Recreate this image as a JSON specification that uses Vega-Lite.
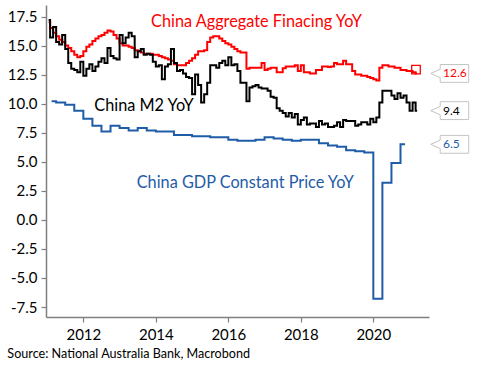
{
 "$schema": "https://vega.github.io/schema/vega-lite/v6.json",
 "width": 383,
 "height": 312,
 "autosize": {"type": "none"},
 "padding": {"left": 46, "top": 5, "right": 54, "bottom": 54},
 "background": "white",
 "config": {"view": {"stroke": null}, "font": "Lato"},
 "title": {"text": "Source: National Australia Bank, Macrobond", "orient": "bottom", "anchor": "start", "frame": "bounds", "offset": 6, "fontSize": 12.6, "font": "Lato", "fontWeight": "normal", "color": "#000000"},
 "datasets": {
  "lines": [
{"s":"TSF","t":2011.042,"v":17.0},{"s":"TSF","t":2011.125,"v":16.5},{"s":"TSF","t":2011.208,"v":16.1},{"s":"TSF","t":2011.292,"v":15.8},{"s":"TSF","t":2011.375,"v":15.5},{"s":"TSF","t":2011.458,"v":15.3},{"s":"TSF","t":2011.542,"v":15.0},{"s":"TSF","t":2011.625,"v":14.8},{"s":"TSF","t":2011.708,"v":14.5},{"s":"TSF","t":2011.792,"v":14.2},{"s":"TSF","t":2011.875,"v":14.0},{"s":"TSF","t":2011.958,"v":14.1},
{"s":"TSF","t":2012.042,"v":14.5},{"s":"TSF","t":2012.125,"v":14.9},{"s":"TSF","t":2012.208,"v":15.1},{"s":"TSF","t":2012.292,"v":15.4},{"s":"TSF","t":2012.375,"v":15.6},{"s":"TSF","t":2012.458,"v":15.8},{"s":"TSF","t":2012.542,"v":15.9},{"s":"TSF","t":2012.625,"v":16.1},{"s":"TSF","t":2012.708,"v":16.3},{"s":"TSF","t":2012.792,"v":16.2},{"s":"TSF","t":2012.875,"v":15.9},{"s":"TSF","t":2012.958,"v":15.6},
{"s":"TSF","t":2013.042,"v":15.2},{"s":"TSF","t":2013.125,"v":15.0},{"s":"TSF","t":2013.208,"v":15.0},{"s":"TSF","t":2013.292,"v":14.9},{"s":"TSF","t":2013.375,"v":14.8},{"s":"TSF","t":2013.458,"v":14.6},{"s":"TSF","t":2013.542,"v":14.5},{"s":"TSF","t":2013.625,"v":14.4},{"s":"TSF","t":2013.708,"v":14.3},{"s":"TSF","t":2013.792,"v":14.3},{"s":"TSF","t":2013.875,"v":14.3},{"s":"TSF","t":2013.958,"v":14.2},
{"s":"TSF","t":2014.042,"v":14.2},{"s":"TSF","t":2014.125,"v":14.1},{"s":"TSF","t":2014.208,"v":14.0},{"s":"TSF","t":2014.292,"v":13.9},{"s":"TSF","t":2014.375,"v":13.8},{"s":"TSF","t":2014.458,"v":13.7},{"s":"TSF","t":2014.542,"v":13.4},{"s":"TSF","t":2014.625,"v":13.3},{"s":"TSF","t":2014.708,"v":13.3},{"s":"TSF","t":2014.792,"v":13.3},{"s":"TSF","t":2014.875,"v":13.5},{"s":"TSF","t":2014.958,"v":13.7},
{"s":"TSF","t":2015.042,"v":13.9},{"s":"TSF","t":2015.125,"v":14.2},{"s":"TSF","t":2015.208,"v":14.5},{"s":"TSF","t":2015.292,"v":14.5},{"s":"TSF","t":2015.375,"v":14.6},{"s":"TSF","t":2015.458,"v":15.3},{"s":"TSF","t":2015.542,"v":15.7},{"s":"TSF","t":2015.625,"v":15.8},{"s":"TSF","t":2015.708,"v":15.8},{"s":"TSF","t":2015.792,"v":15.6},{"s":"TSF","t":2015.875,"v":15.4},{"s":"TSF","t":2015.958,"v":15.2},
{"s":"TSF","t":2016.042,"v":15.1},{"s":"TSF","t":2016.125,"v":14.9},{"s":"TSF","t":2016.208,"v":14.7},{"s":"TSF","t":2016.292,"v":14.5},{"s":"TSF","t":2016.375,"v":14.4},{"s":"TSF","t":2016.458,"v":14.4},{"s":"TSF","t":2016.542,"v":13.0},{"s":"TSF","t":2016.625,"v":13.1},{"s":"TSF","t":2016.708,"v":13.1},{"s":"TSF","t":2016.792,"v":13.1},{"s":"TSF","t":2016.875,"v":13.1},{"s":"TSF","t":2016.958,"v":13.5},
{"s":"TSF","t":2017.042,"v":12.9},{"s":"TSF","t":2017.125,"v":13.0},{"s":"TSF","t":2017.208,"v":13.1},{"s":"TSF","t":2017.292,"v":13.1},{"s":"TSF","t":2017.375,"v":12.7},{"s":"TSF","t":2017.458,"v":12.7},{"s":"TSF","t":2017.542,"v":13.05},{"s":"TSF","t":2017.625,"v":13.2},{"s":"TSF","t":2017.708,"v":13.2},{"s":"TSF","t":2017.792,"v":13.2},{"s":"TSF","t":2017.875,"v":13.3},{"s":"TSF","t":2017.958,"v":12.8},
{"s":"TSF","t":2018.042,"v":13.3},{"s":"TSF","t":2018.125,"v":12.7},{"s":"TSF","t":2018.208,"v":12.7},{"s":"TSF","t":2018.292,"v":12.6},{"s":"TSF","t":2018.375,"v":12.6},{"s":"TSF","t":2018.458,"v":12.9},{"s":"TSF","t":2018.542,"v":12.9},{"s":"TSF","t":2018.625,"v":13.2},{"s":"TSF","t":2018.708,"v":13.2},{"s":"TSF","t":2018.792,"v":13.15},{"s":"TSF","t":2018.875,"v":13.2},{"s":"TSF","t":2018.958,"v":13.5},
{"s":"TSF","t":2019.042,"v":13.4},{"s":"TSF","t":2019.125,"v":13.4},{"s":"TSF","t":2019.208,"v":13.7},{"s":"TSF","t":2019.292,"v":13.4},{"s":"TSF","t":2019.375,"v":13.4},{"s":"TSF","t":2019.458,"v":12.8},{"s":"TSF","t":2019.542,"v":12.5},{"s":"TSF","t":2019.625,"v":12.5},{"s":"TSF","t":2019.708,"v":12.4},{"s":"TSF","t":2019.792,"v":12.4},{"s":"TSF","t":2019.875,"v":12.3},{"s":"TSF","t":2019.958,"v":12.2},
{"s":"TSF","t":2020.042,"v":12.1},{"s":"TSF","t":2020.125,"v":12.0},{"s":"TSF","t":2020.208,"v":13.1},{"s":"TSF","t":2020.292,"v":13.3},{"s":"TSF","t":2020.375,"v":13.3},{"s":"TSF","t":2020.458,"v":13.2},{"s":"TSF","t":2020.542,"v":13.2},{"s":"TSF","t":2020.625,"v":13.1},{"s":"TSF","t":2020.708,"v":13.1},{"s":"TSF","t":2020.792,"v":12.9},{"s":"TSF","t":2020.875,"v":12.9},{"s":"TSF","t":2020.958,"v":12.8},
{"s":"TSF","t":2021.042,"v":12.8},{"s":"TSF","t":2021.125,"v":12.7},{"s":"TSF","t":2021.208,"v":12.6},
{"s":"M2","t":2011.042,"v":17.2},{"s":"M2","t":2011.125,"v":15.7},{"s":"M2","t":2011.208,"v":16.6},{"s":"M2","t":2011.292,"v":15.3},{"s":"M2","t":2011.375,"v":15.1},{"s":"M2","t":2011.458,"v":15.9},{"s":"M2","t":2011.542,"v":14.7},{"s":"M2","t":2011.625,"v":13.5},{"s":"M2","t":2011.708,"v":13.0},{"s":"M2","t":2011.792,"v":12.9},{"s":"M2","t":2011.875,"v":12.7},{"s":"M2","t":2011.958,"v":13.6},
{"s":"M2","t":2012.042,"v":12.4},{"s":"M2","t":2012.125,"v":13.0},{"s":"M2","t":2012.208,"v":13.4},{"s":"M2","t":2012.292,"v":12.8},{"s":"M2","t":2012.375,"v":13.2},{"s":"M2","t":2012.458,"v":13.6},{"s":"M2","t":2012.542,"v":13.9},{"s":"M2","t":2012.625,"v":13.5},{"s":"M2","t":2012.708,"v":14.8},{"s":"M2","t":2012.792,"v":14.1},{"s":"M2","t":2012.875,"v":13.9},{"s":"M2","t":2012.958,"v":13.8},
{"s":"M2","t":2013.042,"v":15.9},{"s":"M2","t":2013.125,"v":15.2},{"s":"M2","t":2013.208,"v":15.7},{"s":"M2","t":2013.292,"v":16.1},{"s":"M2","t":2013.375,"v":15.8},{"s":"M2","t":2013.458,"v":14.0},{"s":"M2","t":2013.542,"v":14.5},{"s":"M2","t":2013.625,"v":14.7},{"s":"M2","t":2013.708,"v":14.2},{"s":"M2","t":2013.792,"v":14.3},{"s":"M2","t":2013.875,"v":14.2},{"s":"M2","t":2013.958,"v":13.6},
{"s":"M2","t":2014.042,"v":13.2},{"s":"M2","t":2014.125,"v":13.3},{"s":"M2","t":2014.208,"v":12.1},{"s":"M2","t":2014.292,"v":13.2},{"s":"M2","t":2014.375,"v":13.4},{"s":"M2","t":2014.458,"v":14.7},{"s":"M2","t":2014.542,"v":13.5},{"s":"M2","t":2014.625,"v":12.8},{"s":"M2","t":2014.708,"v":12.9},{"s":"M2","t":2014.792,"v":12.6},{"s":"M2","t":2014.875,"v":12.3},{"s":"M2","t":2014.958,"v":12.2},
{"s":"M2","t":2015.042,"v":10.8},{"s":"M2","t":2015.125,"v":12.5},{"s":"M2","t":2015.208,"v":11.6},{"s":"M2","t":2015.292,"v":10.1},{"s":"M2","t":2015.375,"v":10.8},{"s":"M2","t":2015.458,"v":11.8},{"s":"M2","t":2015.542,"v":13.3},{"s":"M2","t":2015.625,"v":13.3},{"s":"M2","t":2015.708,"v":13.1},{"s":"M2","t":2015.792,"v":13.5},{"s":"M2","t":2015.875,"v":13.7},{"s":"M2","t":2015.958,"v":13.3},
{"s":"M2","t":2016.042,"v":14.0},{"s":"M2","t":2016.125,"v":13.3},{"s":"M2","t":2016.208,"v":13.4},{"s":"M2","t":2016.292,"v":12.8},{"s":"M2","t":2016.375,"v":11.8},{"s":"M2","t":2016.458,"v":11.8},{"s":"M2","t":2016.542,"v":10.2},{"s":"M2","t":2016.625,"v":11.4},{"s":"M2","t":2016.708,"v":11.5},{"s":"M2","t":2016.792,"v":11.6},{"s":"M2","t":2016.875,"v":11.4},{"s":"M2","t":2016.958,"v":11.3},
{"s":"M2","t":2017.042,"v":11.3},{"s":"M2","t":2017.125,"v":11.1},{"s":"M2","t":2017.208,"v":10.6},{"s":"M2","t":2017.292,"v":10.5},{"s":"M2","t":2017.375,"v":9.6},{"s":"M2","t":2017.458,"v":9.4},{"s":"M2","t":2017.542,"v":9.2},{"s":"M2","t":2017.625,"v":8.9},{"s":"M2","t":2017.708,"v":9.2},{"s":"M2","t":2017.792,"v":8.8},{"s":"M2","t":2017.875,"v":9.1},{"s":"M2","t":2017.958,"v":8.2},
{"s":"M2","t":2018.042,"v":8.6},{"s":"M2","t":2018.125,"v":8.8},{"s":"M2","t":2018.208,"v":8.2},{"s":"M2","t":2018.292,"v":8.3},{"s":"M2","t":2018.375,"v":8.3},{"s":"M2","t":2018.458,"v":8.0},{"s":"M2","t":2018.542,"v":8.5},{"s":"M2","t":2018.625,"v":8.2},{"s":"M2","t":2018.708,"v":8.3},{"s":"M2","t":2018.792,"v":8.0},{"s":"M2","t":2018.875,"v":8.0},{"s":"M2","t":2018.958,"v":8.1},
{"s":"M2","t":2019.042,"v":8.4},{"s":"M2","t":2019.125,"v":8.0},{"s":"M2","t":2019.208,"v":8.6},{"s":"M2","t":2019.292,"v":8.5},{"s":"M2","t":2019.375,"v":8.5},{"s":"M2","t":2019.458,"v":8.5},{"s":"M2","t":2019.542,"v":8.1},{"s":"M2","t":2019.625,"v":8.2},{"s":"M2","t":2019.708,"v":8.4},{"s":"M2","t":2019.792,"v":8.4},{"s":"M2","t":2019.875,"v":8.2},{"s":"M2","t":2019.958,"v":8.7},
{"s":"M2","t":2020.042,"v":8.4},{"s":"M2","t":2020.125,"v":8.8},{"s":"M2","t":2020.208,"v":10.1},{"s":"M2","t":2020.292,"v":11.1},{"s":"M2","t":2020.375,"v":11.1},{"s":"M2","t":2020.458,"v":11.1},{"s":"M2","t":2020.542,"v":10.7},{"s":"M2","t":2020.625,"v":10.4},{"s":"M2","t":2020.708,"v":10.9},{"s":"M2","t":2020.792,"v":10.5},{"s":"M2","t":2020.875,"v":10.7},{"s":"M2","t":2020.958,"v":10.1},
{"s":"M2","t":2021.042,"v":9.4},{"s":"M2","t":2021.125,"v":10.1},{"s":"M2","t":2021.208,"v":9.4},
{"s":"GDP","t":2011.125,"v":10.2},{"s":"GDP","t":2011.375,"v":10.1},{"s":"GDP","t":2011.625,"v":9.9},{"s":"GDP","t":2011.875,"v":9.4},
{"s":"GDP","t":2012.125,"v":8.7},{"s":"GDP","t":2012.375,"v":8.1},{"s":"GDP","t":2012.625,"v":7.6},{"s":"GDP","t":2012.875,"v":8.1},
{"s":"GDP","t":2013.125,"v":7.9},{"s":"GDP","t":2013.375,"v":7.7},{"s":"GDP","t":2013.625,"v":7.9},{"s":"GDP","t":2013.875,"v":7.7},
{"s":"GDP","t":2014.125,"v":7.6},{"s":"GDP","t":2014.375,"v":7.6},{"s":"GDP","t":2014.625,"v":7.3},{"s":"GDP","t":2014.875,"v":7.3},
{"s":"GDP","t":2015.125,"v":7.2},{"s":"GDP","t":2015.375,"v":7.2},{"s":"GDP","t":2015.625,"v":7.1},{"s":"GDP","t":2015.875,"v":7.1},
{"s":"GDP","t":2016.125,"v":6.9},{"s":"GDP","t":2016.375,"v":6.8},{"s":"GDP","t":2016.625,"v":6.8},{"s":"GDP","t":2016.875,"v":6.9},
{"s":"GDP","t":2017.125,"v":7.1},{"s":"GDP","t":2017.375,"v":7.0},{"s":"GDP","t":2017.625,"v":6.9},{"s":"GDP","t":2017.875,"v":6.8},
{"s":"GDP","t":2018.125,"v":6.9},{"s":"GDP","t":2018.375,"v":6.9},{"s":"GDP","t":2018.625,"v":6.6},{"s":"GDP","t":2018.875,"v":6.4},
{"s":"GDP","t":2019.125,"v":6.3},{"s":"GDP","t":2019.375,"v":6.0},{"s":"GDP","t":2019.625,"v":5.9},{"s":"GDP","t":2019.875,"v":5.8},
{"s":"GDP","t":2020.125,"v":-6.8},{"s":"GDP","t":2020.375,"v":3.2},{"s":"GDP","t":2020.625,"v":4.9},{"s":"GDP","t":2020.875,"v":6.5}
  ],
  "labels": [
   {"s":"TSF","t":2013.867,"v":16.57,"label":"China Aggregate Finacing YoY"},
   {"s":"M2","t":2012.302,"v":9.37,"label":"China M2 YoY"},
   {"s":"GDP","t":2013.472,"v":2.72,"label":"China GDP Constant Price YoY"}
  ],
  "marker": [
   {"s":"TSF","t":2021.177,"v":12.93}
  ]
 },
 "layer": [
  {
   "data": {"name": "lines"},
   "transform": [{"filter": "datum.s === 'TSF'"}],
   "mark": {"type": "line", "interpolate": "step", "strokeWidth": 2, "clip": true},
   "encoding": {
    "x": {"field": "t", "type": "quantitative", "title": null,
          "scale": {"domain": [2010.97, 2021.536], "nice": false, "zero": false},
          "axis": {"values": [2012, 2014, 2016, 2018, 2020], "tickCount": 20, "format": "d", "grid": false, "domainColor": "#808080", "domainWidth": 1.5, "tickColor": "#808080", "tickWidth": 1.2, "tickSize": 5, "labelFontSize": 15, "labelFont": "Lato", "labelColor": "#000000", "labelPadding": 5, "labelFlush": false, "labelOverlap": false}},
    "y": {"field": "v", "type": "quantitative", "title": null,
          "scale": {"domain": [-8.36, 18.49], "nice": false, "zero": false},
          "axis": {"values": [-7.5, -5, -2.5, 0, 2.5, 5, 7.5, 10, 12.5, 15, 17.5], "tickCount": 30, "labelExpr": "replace(format(datum.value, '.1f'), '−', '-')", "grid": false, "domainColor": "#808080", "domainWidth": 1.5, "tickColor": "#808080", "tickWidth": 1.2, "tickSize": 5, "labelFontSize": 15, "labelFont": "Lato", "labelColor": "#000000", "labelPadding": 4, "labelOverlap": false, "labelFlush": false}},
    "color": {"field": "s", "type": "nominal", "legend": null, "scale": {"domain": ["TSF", "M2", "GDP"], "range": ["#ff0000", "#000000", "#1f5ca8"]}}
   }
  },
  {
   "data": {"name": "lines"},
   "transform": [{"filter": "datum.s === 'M2'"}],
   "mark": {"type": "line", "interpolate": "step", "strokeWidth": 2, "clip": true},
   "encoding": {
    "x": {"field": "t", "type": "quantitative", "title": null},
    "y": {"field": "v", "type": "quantitative", "title": null},
    "color": {"field": "s", "type": "nominal", "legend": null}
   }
  },
  {
   "data": {"name": "lines"},
   "transform": [{"filter": "datum.s === 'GDP'"}],
   "mark": {"type": "line", "interpolate": "step", "strokeWidth": 2, "clip": true},
   "encoding": {
    "x": {"field": "t", "type": "quantitative", "title": null},
    "y": {"field": "v", "type": "quantitative", "title": null},
    "color": {"field": "s", "type": "nominal", "legend": null}
   }
  },
  {
   "data": {"name": "marker"},
   "mark": {"type": "point", "shape": "square", "size": 74, "filled": false, "strokeWidth": 1.3, "opacity": 1, "clip": false},
   "encoding": {
    "x": {"field": "t", "type": "quantitative", "title": null},
    "y": {"field": "v", "type": "quantitative", "title": null},
    "color": {"field": "s", "type": "nominal", "legend": null}
   }
  },
  {
   "data": {"name": "labels"},
   "mark": {"type": "text", "align": "left", "baseline": "alphabetic", "fontSize": 16.3, "font": "Lato"},
   "encoding": {
    "x": {"field": "t", "type": "quantitative", "title": null},
    "y": {"field": "v", "type": "quantitative", "title": null},
    "text": {"field": "label"},
    "color": {"field": "s", "type": "nominal", "legend": null}
   }
  },
  {
   "data": {"name": "lines"},
   "transform": [
    {"joinaggregate": [{"op": "max", "field": "t", "as": "tmax"}], "groupby": ["s"]},
    {"filter": "datum.t === datum.tmax"}
   ],
   "mark": {"type": "point", "shape": "M -1 0 L -0.5 -0.22 L -0.5 -0.47 L 1 -0.47 L 1 0.47 L -0.5 0.47 L -0.5 0.22 Z", "size": 1444, "filled": true, "fill": "#ffffff", "stroke": "#c4c4c4", "strokeWidth": 1, "opacity": 1, "clip": false},
   "encoding": {
    "x": {"datum": 2022.107, "type": "quantitative"},
    "y": {"field": "v", "type": "quantitative", "title": null}
   }
  },
  {
   "data": {"name": "lines"},
   "transform": [
    {"joinaggregate": [{"op": "max", "field": "t", "as": "tmax"}], "groupby": ["s"]},
    {"filter": "datum.t === datum.tmax"}
   ],
   "mark": {"type": "text", "align": "left", "baseline": "middle", "fontSize": 12, "font": "Lato", "clip": false},
   "encoding": {
    "x": {"datum": 2021.922, "type": "quantitative"},
    "y": {"field": "v", "type": "quantitative", "title": null},
    "text": {"field": "v", "format": ".1f"},
    "color": {"field": "s", "type": "nominal", "legend": null}
   }
  }
 ]
}
